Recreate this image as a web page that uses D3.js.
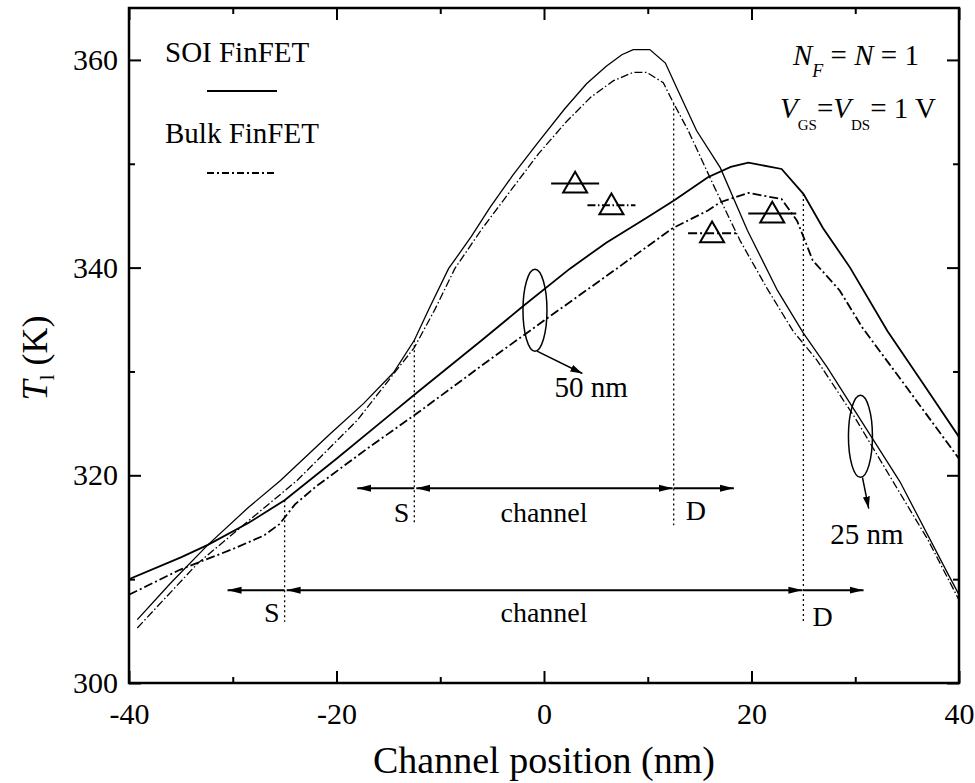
<!DOCTYPE html>
<html>
<head>
<meta charset="utf-8">
<script src="https://cdn.jsdelivr.net/npm/d3@7"></script>
<style>
  body { margin: 0; background: #fff; }
  text { white-space: pre; }
</style>
</head>
<body>
<svg id="chart" width="975" height="783"></svg>
<script>
// Lattice temperature along the channel for SOI and bulk FinFETs (Lg = 25 nm and 50 nm)

// SOI FinFET, 25 nm gate
const soi25Pos = [-39.2, -36, -32.4, -28.5, -25.4, -20.6, -17.4, -14.5, -12.5, -11, -9.2, -7, -5.2, -3, -0.7, 2, 4.1, 6, 7.5, 8.6, 10.2, 11.7, 12.8, 14.7, 17, 19.6, 22.5, 25, 27.3, 34.3, 39.1, 40];
const soi25T   = [306.1, 309.6, 313.3, 316.9, 319.5, 324.0, 326.9, 329.9, 333.0, 336.2, 339.9, 343.0, 345.8, 348.9, 351.9, 355.3, 357.7, 359.4, 360.5, 361.0, 361.0, 359.7, 357.3, 353.2, 349.6, 343.6, 337.8, 333.7, 330.4, 319.4, 310.2, 308.5];

// Bulk FinFET, 25 nm gate
const bulk25Pos = [-39.2, -33.4, -28.5, -23.8, -18, -12.5, -10.5, -8.6, -6, -3, -0.5, 2.2, 4.5, 6.7, 8.6, 9.9, 11.5, 12.4, 13.9, 16.4, 18.9, 21.5, 24, 26.3, 30, 34, 37, 40];
const bulk25T   = [305.3, 311.5, 315.6, 319.5, 325.3, 332.3, 336.0, 339.9, 343.7, 347.7, 351.0, 354.1, 356.4, 358.0, 358.8, 358.8, 357.8, 356.0, 353.2, 347.8, 342.6, 338.0, 333.9, 331.1, 325.5, 318.8, 313.8, 308.0];

// SOI FinFET, 50 nm gate
const soi50Pos = [-40, -35, -32.4, -28.5, -25, -20, -15, -12.2, -6, -2, 2.5, 6, 9.9, 12.6, 15.8, 18, 19.7, 22.9, 25, 26.9, 29.5, 33.1, 36.5, 40];
const soi50T   = [310.0, 312.1, 313.3, 315.4, 317.6, 321.6, 325.7, 328.0, 333.0, 336.3, 339.9, 342.4, 344.8, 346.5, 348.7, 349.7, 350.1, 349.5, 347.1, 343.8, 340.0, 333.9, 328.9, 323.7];

// Bulk FinFET, 50 nm gate
const bulk50Pos = [-40, -35.1, -30, -27, -25.5, -24, -22, -17, -12.2, -5, 0, 7, 12.4, 15.8, 17, 19.7, 22.9, 24.4, 25.9, 28.5, 30.7, 35, 40];
const bulk50T   = [308.5, 310.9, 312.9, 314.2, 315.3, 317.2, 318.9, 322.6, 326.0, 331.3, 334.9, 339.9, 343.8, 345.5, 346.3, 347.2, 346.6, 344.5, 340.7, 337.8, 334.2, 328.4, 321.6];

// Average-temperature markers (one per device)
const markerSeries = ["soi25", "bulk25", "bulk50", "soi50"];
const markerPos    = [3.0, 6.5, 16.2, 22.0];
const markerT      = [348.1, 346.0, 343.3, 345.2];

// Gate lengths (nm) marking the source/drain boundaries
const gateLengths = [25, 50];

// Axis ticks
const xMajor = [-40, -20, 0, 20, 40];
const xMinor = [-30, -10, 10, 30];
const yMajor = [300, 320, 340, 360];
const yMinor = [310, 330, 350];

const W = 975, H = 783;
const margin = { top: 8, right: 16, bottom: 100, left: 129 };
const serif = "'Liberation Serif', 'Times New Roman', serif";

const svg = d3.select("#chart");
const x = d3.scaleLinear().domain([-40, 40]).range([margin.left, W - margin.right]);
const y = d3.scaleLinear().domain([300, 365]).range([H - margin.bottom, margin.top]);

const series = {
  soi25:  { pos: soi25Pos,  T: soi25T,  width: 1.3, dash: null },
  bulk25: { pos: bulk25Pos, T: bulk25T, width: 1.3, dash: "8,2.5,1.5,2.5" },
  soi50:  { pos: soi50Pos,  T: soi50T,  width: 1.8, dash: null },
  bulk50: { pos: bulk50Pos, T: bulk50T, width: 1.8, dash: "9,3,2,3" }
};

// value of a series at a given position (linear between samples)
function valueAt(s, v) {
  const i = d3.bisectLeft(s.pos, v);
  if (i <= 0) return s.T[0];
  if (i >= s.pos.length) return s.T[s.T.length - 1];
  const t = (v - s.pos[i - 1]) / (s.pos[i] - s.pos[i - 1]);
  return s.T[i - 1] + t * (s.T[i] - s.T[i - 1]);
}

const plotBottom = y(300), plotTop = y(365), plotLeft = x(-40), plotRight = x(40);

const defs = svg.append("defs");
defs.append("clipPath").attr("id", "plot-clip")
  .append("rect")
  .attr("x", plotLeft).attr("y", plotTop)
  .attr("width", plotRight - plotLeft).attr("height", plotBottom - plotTop);

defs.append("marker").attr("id", "head")
  .attr("viewBox", "0 -5 14 10").attr("refX", 14).attr("refY", 0)
  .attr("markerUnits", "userSpaceOnUse")
  .attr("markerWidth", 14).attr("markerHeight", 10)
  .attr("orient", "auto-start-reverse")
  .append("path").attr("d", "M0,-3.5L14,0L0,3.5Z").attr("fill", "#000");

defs.append("marker").attr("id", "head-small")
  .attr("viewBox", "0 -5 12 10").attr("refX", 12).attr("refY", 0)
  .attr("markerUnits", "userSpaceOnUse")
  .attr("markerWidth", 12).attr("markerHeight", 10)
  .attr("orient", "auto")
  .append("path").attr("d", "M0,-3.5L12,0L0,3.5Z").attr("fill", "#000");

// ---- curves ----
const line = d3.line().x(d => x(d[0])).y(d => y(d[1]));
const plot = svg.append("g").attr("clip-path", "url(#plot-clip)");
["soi25", "bulk25", "soi50", "bulk50"].forEach(key => {
  const s = series[key];
  plot.append("path")
    .datum(s.pos.map((p, i) => [p, s.T[i]]))
    .attr("d", line)
    .attr("fill", "none")
    .attr("stroke", "#000")
    .attr("stroke-width", s.width)
    .attr("stroke-dasharray", s.dash);
});

// ---- source / drain boundaries and channel arrows ----
const ann = svg.append("g").attr("font-family", serif).attr("fill", "#000");
gateLengths.forEach(L => {
  const half = L / 2;
  const rowT = L === 25 ? 318.75 : 308.94;
  const bottomT = L === 25 ? 315.2 : 305.9;
  const srcTop = L === 25 ? valueAt(series.soi25, -half) : valueAt(series.soi50, -half);
  const drnTop = L === 25 ? valueAt(series.bulk25, half) : valueAt(series.soi50, half);
  const ry = y(rowT);

  [[-half, srcTop], [half, drnTop]].forEach(([v, t]) => {
    ann.append("line")
      .attr("x1", x(v)).attr("x2", x(v))
      .attr("y1", y(t)).attr("y2", y(bottomT))
      .attr("stroke", "#000").attr("stroke-width", 1.3)
      .attr("stroke-dasharray", "2,3");
  });

  // channel (double-headed)
  ann.append("line")
    .attr("x1", x(-half) + 2).attr("x2", x(half) - 1)
    .attr("y1", ry).attr("y2", ry)
    .attr("stroke", "#000").attr("stroke-width", 2)
    .attr("marker-start", "url(#head)").attr("marker-end", "url(#head)");
  // source side
  ann.append("line")
    .attr("x1", x(-half)).attr("x2", x(-half - 5.5))
    .attr("y1", ry).attr("y2", ry)
    .attr("stroke", "#000").attr("stroke-width", 2)
    .attr("marker-end", "url(#head)");
  // drain side
  ann.append("line")
    .attr("x1", x(half)).attr("x2", x(half + 5.8))
    .attr("y1", ry).attr("y2", ry)
    .attr("stroke", "#000").attr("stroke-width", 2)
    .attr("marker-end", "url(#head)");

  const labY = ry + (L === 25 ? 34 : 32);
  ann.append("text").attr("x", x(-half) - 5).attr("y", labY)
    .attr("text-anchor", "end").attr("font-size", 28).text("S");
  ann.append("text").attr("x", x(half) + (L === 25 ? 12 : 9)).attr("y", labY + (L === 25 ? -2 : 4))
    .attr("font-size", 28).text("D");
  ann.append("text").attr("x", x(0)).attr("y", labY)
    .attr("text-anchor", "middle").attr("font-size", 28).text("channel");
});

// ---- average-temperature markers ----
const tri = d3.symbol().type(d3.symbolTriangle).size(250);
markerSeries.forEach((key, i) => {
  const s = series[key];
  const cx = x(markerPos[i]), cy = y(markerT[i]);
  ann.append("line")
    .attr("x1", cx - 24).attr("x2", cx + 24)
    .attr("y1", cy).attr("y2", cy)
    .attr("stroke", "#000").attr("stroke-width", 2)
    .attr("stroke-dasharray", s.dash);
  ann.append("path")
    .attr("d", tri)
    .attr("transform", `translate(${cx},${cy + 2})`)
    .attr("fill", "none").attr("stroke", "#000").attr("stroke-width", 2);
});

// ---- gate-length callouts (ellipse round the pair of curves, arrow, label) ----
const callouts = [
  { label: "50 nm", v: -0.87, T: 335.9,  tip: [3.7, 329.8],  text: [1.0, 327.5] },
  { label: "25 nm", v: 30.5,  T: 323.75, tip: [31.3, 316.8], text: [27.6, 313.4] }
];
callouts.forEach(c => {
  const cx = x(c.v), cy = y(c.T);
  ann.append("ellipse").attr("cx", cx).attr("cy", cy).attr("rx", 12).attr("ry", 41)
    .attr("fill", "none").attr("stroke", "#000").attr("stroke-width", 1.5);
  ann.append("line")
    .attr("x1", cx + 2).attr("y1", cy + 41)
    .attr("x2", x(c.tip[0])).attr("y2", y(c.tip[1]))
    .attr("stroke", "#000").attr("stroke-width", 1.5)
    .attr("marker-end", "url(#head-small)");
  ann.append("text").attr("x", x(c.text[0])).attr("y", y(c.text[1]))
    .attr("font-size", 29).text(c.label);
});

// ---- axes (ticks inward on all four sides) ----
function styleAxis(g) {
  g.select(".domain").remove();
  g.selectAll("line").attr("stroke", "#000").attr("stroke-width", 2);
  g.selectAll("text").attr("font-family", serif).attr("font-size", 30).attr("fill", "#000");
}

svg.append("g").attr("transform", `translate(0,${plotBottom})`)
  .call(d3.axisBottom(x).tickValues(xMajor).tickSize(-12).tickPadding(20).tickFormat(d => String(d)))
  .call(styleAxis);
svg.append("g").attr("transform", `translate(0,${plotBottom})`)
  .call(d3.axisBottom(x).tickValues(xMinor).tickSize(-6).tickFormat(""))
  .call(styleAxis);
svg.append("g").attr("transform", `translate(0,${plotTop})`)
  .call(d3.axisTop(x).tickValues(xMajor).tickSize(-12).tickFormat(""))
  .call(styleAxis);
svg.append("g").attr("transform", `translate(0,${plotTop})`)
  .call(d3.axisTop(x).tickValues(xMinor).tickSize(-6).tickFormat(""))
  .call(styleAxis);

svg.append("g").attr("transform", `translate(${plotLeft},0)`)
  .call(d3.axisLeft(y).tickValues(yMajor).tickSize(-12).tickPadding(11).tickFormat(d => String(d)))
  .call(styleAxis);
svg.append("g").attr("transform", `translate(${plotLeft},0)`)
  .call(d3.axisLeft(y).tickValues(yMinor).tickSize(-6).tickFormat(""))
  .call(styleAxis);
svg.append("g").attr("transform", `translate(${plotRight},0)`)
  .call(d3.axisRight(y).tickValues(yMajor).tickSize(-12).tickFormat(""))
  .call(styleAxis);
svg.append("g").attr("transform", `translate(${plotRight},0)`)
  .call(d3.axisRight(y).tickValues(yMinor).tickSize(-6).tickFormat(""))
  .call(styleAxis);

svg.append("rect")
  .attr("x", plotLeft).attr("y", plotTop)
  .attr("width", plotRight - plotLeft).attr("height", plotBottom - plotTop)
  .attr("fill", "none").attr("stroke", "#000").attr("stroke-width", 2.5);

// ---- axis titles ----
svg.append("text")
  .attr("x", (plotLeft + plotRight) / 2).attr("y", 773)
  .attr("text-anchor", "middle")
  .attr("font-family", serif).attr("font-size", 38).attr("fill", "#000")
  .text("Channel position (nm)");

const yTitle = svg.append("text")
  .attr("transform", "translate(47,358) rotate(-90)")
  .attr("text-anchor", "middle")
  .attr("font-family", serif).attr("font-size", 36).attr("fill", "#000");
yTitle.append("tspan").attr("font-style", "italic").text("T");
yTitle.append("tspan").attr("font-size", 22).attr("dy", 7).text("l");
yTitle.append("tspan").attr("dy", -7).text(" (K)");

// ---- legend ----
const legend = svg.append("g").attr("font-family", serif).attr("fill", "#000");
legend.append("text").attr("x", 165).attr("y", 62).attr("font-size", 29).text("SOI FinFET");
legend.append("line").attr("x1", 207).attr("x2", 277).attr("y1", 91).attr("y2", 91)
  .attr("stroke", "#000").attr("stroke-width", 1.8);
legend.append("text").attr("x", 165).attr("y", 143).attr("font-size", 29).text("Bulk FinFET");
legend.append("line").attr("x1", 207).attr("x2", 277).attr("y1", 173).attr("y2", 173)
  .attr("stroke", "#000").attr("stroke-width", 1.8).attr("stroke-dasharray", "7,3,2,3");

// ---- bias conditions ----
const cond = svg.append("g").attr("font-family", serif).attr("fill", "#000");
const c1 = cond.append("text").attr("x", 793).attr("y", 65).attr("font-size", 29);
c1.append("tspan").attr("font-style", "italic").text("N");
c1.append("tspan").attr("font-style", "italic").attr("font-size", 18).attr("dy", 12).text("F");
c1.append("tspan").attr("dy", -12).text(" = ");
c1.append("tspan").attr("font-style", "italic").text("N");
c1.append("tspan").text(" = 1");

const c2 = cond.append("text").attr("x", 780).attr("y", 118).attr("font-size", 29);
c2.append("tspan").attr("font-style", "italic").text("V");
c2.append("tspan").attr("font-size", 15).attr("dy", 12).text("GS");
c2.append("tspan").attr("dy", -12).text("=");
c2.append("tspan").attr("font-style", "italic").text("V");
c2.append("tspan").attr("font-size", 15).attr("dy", 12).text("DS");
c2.append("tspan").attr("dy", -12).text("= 1 V");
</script>
</body>
</html>
